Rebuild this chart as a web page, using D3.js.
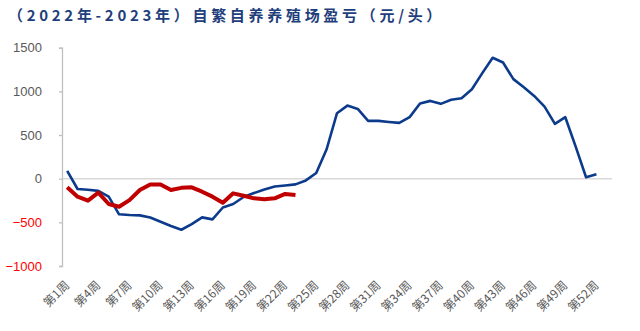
<!DOCTYPE html>
<html>
<head>
<meta charset="utf-8">
<script src="https://cdn.jsdelivr.net/npm/d3@7/dist/d3.min.js"></script>
<style>
  html, body { margin: 0; padding: 0; background: #fff; }
  svg { display: block; }
</style>
</head>
<body>
<svg id="chart" width="640" height="331"></svg>
<script>
// Weekly profit/loss of farrow-to-finish hog farms, yuan per head
const titleText = "（2022年-2023年）自繁自养养殖场盈亏（元/头）";

// 53 week slots on the category axis; every third one is labelled
const weeks = d3.range(1, 54).map(i => "第" + i + "周");
const labelledWeeks = d3.range(1, 53, 3).map(i => "第" + i + "周");

// 2022 season (blue), weeks 1–52
const series2022 = [
  90, -118, -127, -140, -206, -408, -416, -420, -445, -493,
  -542, -585, -520, -443, -466, -330, -290, -210, -165, -125,
  -90, -78, -65, -20, 65, 337, 750, 837, 799, 662,
  662, 650, 639, 705, 862, 891, 857, 903, 922, 1025,
  1209, 1385, 1330, 1140, 1048, 948, 826, 627, 704, 367,
  16, 50
];

// 2023 season (red), weeks 1–23
const series2023 = [
  -99, -206, -252, -160, -290, -321, -245, -130, -66, -66,
  -130, -105, -99, -149, -206, -275, -168, -195, -225, -236,
  -225, -175, -187
];

const yTicks = [-1000, -500, 0, 500, 1000, 1500];

const svg = d3.select("#chart");

const x = d3.scaleBand().domain(weeks).range([62, 612]).padding(0);
const xc = d => x(d) + x.bandwidth() / 2;
const y = d3.scaleLinear().domain([-1000, 1500]).range([266, 47.7]);

// title
svg.append("text")
  .attr("x", 8)
  .attr("y", 21)
  .attr("fill", "#1F3E7C")
  .attr("font-family", "'Noto Sans CJK SC', sans-serif")
  .attr("font-weight", "bold")
  .attr("font-size", 15)
  .attr("letter-spacing", 3.7)
  .text(titleText);

// zero reference line
svg.append("line")
  .attr("x1", 62).attr("x2", 612)
  .attr("y1", y(0)).attr("y2", y(0))
  .attr("stroke", "#D9D9D9")
  .attr("stroke-width", 1.5);

// y axis
const yAxis = d3.axisLeft(y)
  .tickValues(yTicks)
  .tickSize(3)
  .tickPadding(17)
  .tickFormat(d => d < 0 ? "\u2212" + Math.abs(d) : String(d));

const yg = svg.append("g")
  .attr("transform", "translate(62,0)")
  .call(yAxis);
yg.select(".domain").attr("stroke", "#BFBFBF").attr("stroke-width", 1.3);
yg.selectAll(".tick line").attr("stroke", "#BFBFBF").attr("stroke-width", 1.3);
yg.selectAll(".tick text")
  .attr("font-family", "'Liberation Sans', Arial, sans-serif")
  .attr("font-size", 13)
  .attr("fill", d => d < 0 ? "#FF0000" : "#595959");

// x labels, rotated
const xl = svg.append("g");
xl.selectAll("text")
  .data(labelledWeeks)
  .join("text")
  .attr("transform", d => `translate(${xc(d)},${283}) rotate(-45)`)
  .attr("text-anchor", "end")
  .attr("dy", "0.35em")
  .attr("font-family", "'Noto Sans CJK SC', sans-serif")
  .attr("font-size", 12)
  .attr("fill", "#595959")
  .text(d => d);

const line = d3.line()
  .x((d, i) => xc(weeks[i]))
  .y(d => y(d));

svg.append("path")
  .datum(series2022)
  .attr("d", line)
  .attr("fill", "none")
  .attr("stroke", "#0D3B8C")
  .attr("stroke-width", 2.6)
  .attr("stroke-linejoin", "round");

svg.append("path")
  .datum(series2023)
  .attr("d", line)
  .attr("fill", "none")
  .attr("stroke", "#C00000")
  .attr("stroke-width", 4)
  .attr("stroke-linejoin", "round");
</script>
</body>
</html>
